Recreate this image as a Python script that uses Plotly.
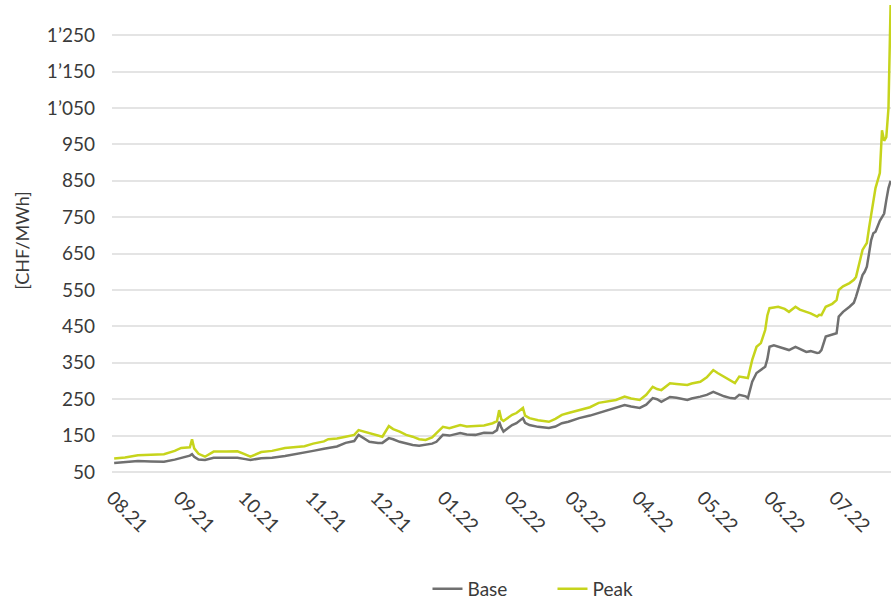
import plotly.graph_objects as go

dates = [
    "2021-08-02", "2021-08-07", "2021-08-13", "2021-08-19", "2021-08-25", "2021-08-30",
    "2021-09-02", "2021-09-06", "2021-09-07", "2021-09-08", "2021-09-10", "2021-09-13",
    "2021-09-17", "2021-09-23", "2021-09-28", "2021-10-01", "2021-10-04", "2021-10-09",
    "2021-10-14", "2021-10-20", "2021-10-24", "2021-10-29", "2021-11-02", "2021-11-07",
    "2021-11-09", "2021-11-13", "2021-11-17", "2021-11-21", "2021-11-23", "2021-11-26",
    "2021-11-28", "2021-12-02", "2021-12-04", "2021-12-07", "2021-12-09", "2021-12-12",
    "2021-12-15", "2021-12-18", "2021-12-21", "2021-12-24", "2021-12-27", "2021-12-29",
    "2022-01-01", "2022-01-04", "2022-01-09", "2022-01-12", "2022-01-16", "2022-01-20",
    "2022-01-24", "2022-01-26", "2022-01-27", "2022-01-28", "2022-01-29", "2022-01-31",
    "2022-02-02", "2022-02-04", "2022-02-07", "2022-02-08", "2022-02-10", "2022-02-14",
    "2022-02-19", "2022-02-22", "2022-02-25", "2022-02-28", "2022-03-05", "2022-03-10",
    "2022-03-14", "2022-03-19", "2022-03-22", "2022-03-26", "2022-03-29", "2022-04-02",
    "2022-04-05", "2022-04-08", "2022-04-10", "2022-04-12", "2022-04-16", "2022-04-19",
    "2022-04-24", "2022-04-26", "2022-04-30", "2022-05-03", "2022-05-06", "2022-05-08",
    "2022-05-11", "2022-05-14", "2022-05-16", "2022-05-18", "2022-05-21", "2022-05-22",
    "2022-05-24", "2022-05-26", "2022-05-28", "2022-05-30", "2022-05-31", "2022-06-01",
    "2022-06-03", "2022-06-05", "2022-06-08", "2022-06-10", "2022-06-13", "2022-06-15",
    "2022-06-18", "2022-06-20", "2022-06-23", "2022-06-24", "2022-06-25", "2022-06-27",
    "2022-06-30", "2022-07-02", "2022-07-03", "2022-07-05", "2022-07-08", "2022-07-10",
    "2022-07-11", "2022-07-14", "2022-07-15", "2022-07-16", "2022-07-17", "2022-07-18",
    "2022-07-19", "2022-07-20", "2022-07-22", "2022-07-23", "2022-07-24", "2022-07-25",
    "2022-07-26", "2022-07-27",
]

base = [
    75, 78, 80, 79, 78, 84,
    88, 95, 99, 92, 84, 83,
    89, 90, 89, 86, 83, 88,
    89, 94, 98, 102, 108, 114,
    116, 120, 130, 135, 152, 140,
    133, 130, 130, 143, 140, 133,
    128, 124, 122, 124, 128, 133,
    152, 150, 157, 153, 152, 158,
    157, 165, 188, 172, 161, 170,
    179, 184, 198, 185, 179, 174,
    171, 175, 184, 188, 198, 205,
    212, 220, 226, 234, 230, 226,
    235, 253, 250, 243, 256, 254,
    248, 252, 257, 262, 270, 265,
    258, 253, 252, 262, 258, 253,
    298, 322, 330, 339, 360, 394,
    398, 394, 389, 385, 394, 388,
    380, 382, 377, 378, 385, 422,
    428, 431, 477, 490, 504, 515,
    532, 591, 600, 614, 650, 687,
    706, 710, 740, 750, 760, 797,
    830, 850,
]

peak = [
    87, 90, 96, 97, 99, 108,
    116, 118, 140, 115, 100, 92,
    106, 106, 107, 100, 92, 105,
    108, 116, 118, 121, 128, 134,
    140, 142, 147, 152, 165, 160,
    157, 150, 147, 176, 168, 161,
    152, 147, 140, 138, 145, 157,
    174, 170, 179, 175, 176, 178,
    184, 190, 220, 195, 190, 198,
    207, 212, 226, 205, 198, 192,
    188, 196, 207, 212, 220, 228,
    240, 244, 248, 257, 252, 248,
    262, 284, 278, 275, 294, 292,
    289, 293, 298, 310, 330, 322,
    312, 303, 294, 312, 308, 308,
    358, 394, 404, 440, 480, 500,
    502, 504, 498, 490, 504, 496,
    490, 486, 477, 482, 481, 504,
    512, 522, 550, 560, 569, 578,
    586, 660, 670, 679, 720, 760,
    800, 830, 871, 989, 960, 970,
    1050, 1340,
]

y_ticks = [50, 150, 250, 350, 450, 550, 650, 750, 850, 950, 1050, 1150, 1250]
y_tick_text = [f"{v // 1000}\u2019{v % 1000:03d}" if v >= 1000 else str(v) for v in y_ticks]

FONT = "Lato"
TXT = "#3a3a3a"

fig = go.Figure()
fig.add_trace(go.Scatter(x=dates, y=base, name="Base", mode="lines",
                         line=dict(color="#707070", width=2.5)))
fig.add_trace(go.Scatter(x=dates, y=peak, name="Peak", mode="lines",
                         line=dict(color="#c6d41c", width=2.5)))

fig.update_layout(
    width=891, height=599,
    margin=dict(l=112, r=0, t=5, b=123),
    paper_bgcolor="white", plot_bgcolor="white",
    font=dict(family=FONT, size=19, color=TXT),
    showlegend=True,
    legend=dict(orientation="h", x=0.405, xanchor="left",
                yref="container", y=0.017, yanchor="middle",
                entrywidth=80, entrywidthmode="pixels",
                font=dict(size=19, color=TXT), traceorder="normal"),
    xaxis=dict(
        type="date",
        range=["2021-08-01", "2022-07-27 04:00"],
        tick0="2021-08-01", dtick="M1", tickformat="%m.%y",
        tickangle=45, showgrid=False, zeroline=False, showline=False,
        ticks="", ticklabelstandoff=6,
        tickfont=dict(size=19, color=TXT),
    ),
    yaxis=dict(
        range=[39, 1333],
        tickvals=y_ticks, ticktext=y_tick_text,
        showgrid=True, gridcolor="#e4e4e4", gridwidth=2,
        zeroline=False, showline=False, ticks="",
        ticklabelstandoff=16,
        tickfont=dict(size=19, color=TXT),
        title=dict(text="[CHF/MWh]", font=dict(size=18, color=TXT), standoff=12),
    ),
)

fig.write_html(
    "out.html",
    config={"displayModeBar": False},
    post_script="document.body.style.margin='0px';document.body.style.overflow='hidden';",
)
